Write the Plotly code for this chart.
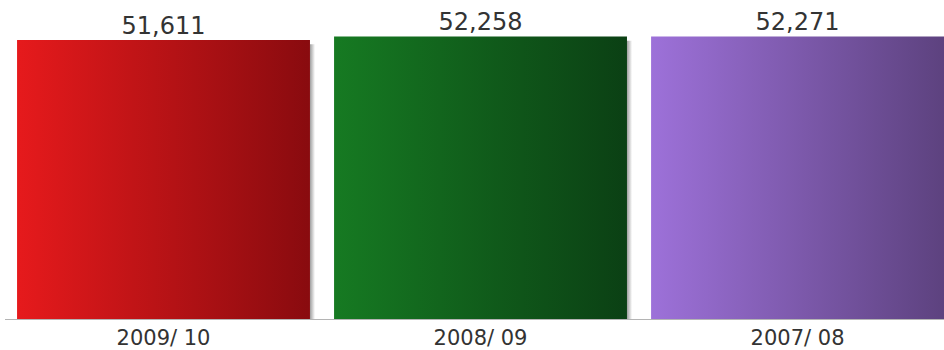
import plotly.graph_objects as go

categories = ["2009/ 10", "2008/ 09", "2007/ 08"]
values = [51611, 52258, 52271]
value_labels = ["51,611", "52,258", "52,271"]
left_colors = ["#e61a1c", "#167a22", "#9d71d9"]
right_colors = ["#890b0f", "#0b4014", "#5d427f"]

BAR_W = 0.924
SHADOW_W = 0.016

fig = go.Figure()
for i, (v, c1, c2) in enumerate(zip(values, left_colors, right_colors)):
    x0, x1 = i - BAR_W / 2, i + BAR_W / 2
    # soft shadow on the right side
    fig.add_trace(go.Scatter(
        x=[x1, x1 + SHADOW_W, x1 + SHADOW_W, x1, x1],
        y=[v * 0.985, v * 0.985, -600, -600, v * 0.985],
        mode="lines", line=dict(width=0), fill="toself",
        fillgradient=dict(type="horizontal",
                          colorscale=[[0, "rgba(0,0,0,0.38)"], [1, "rgba(0,0,0,0)"]]),
        hoverinfo="skip", showlegend=False,
    ))
    # bar body with horizontal gradient
    fig.add_trace(go.Scatter(
        x=[x0, x1, x1, x0, x0],
        y=[0, 0, v, v, 0],
        mode="lines", line=dict(width=0), fill="toself",
        fillgradient=dict(type="horizontal", colorscale=[[0, c1], [1, c2]]),
        hoverinfo="skip", showlegend=False,
    ))

fig.add_trace(go.Scatter(
    x=list(range(len(values))), y=values, mode="text",
    text=value_labels, textposition="top center",
    textfont=dict(family="DejaVu Sans, Verdana, sans-serif", size=24, color="#333333"),
    hoverinfo="skip", showlegend=False, cliponaxis=False,
))

fig.update_layout(
    width=944, height=350,
    margin=dict(l=5, r=0, t=0, b=31),
    paper_bgcolor="white", plot_bgcolor="white",
    showlegend=False,
)
fig.update_xaxes(
    range=[-0.5, 2.462],
    tickmode="array", tickvals=list(range(len(categories))), ticktext=categories,
    tickfont=dict(family="DejaVu Sans, Verdana, sans-serif", size=21, color="#333333"),
    showgrid=False, zeroline=False, showline=True, linecolor="#b4b4b4", linewidth=1,
    ticks="", ticklen=0,
)
fig.update_yaxes(range=[0, 59000], visible=False, showgrid=False, zeroline=False)

fig.write_html("out.html")
